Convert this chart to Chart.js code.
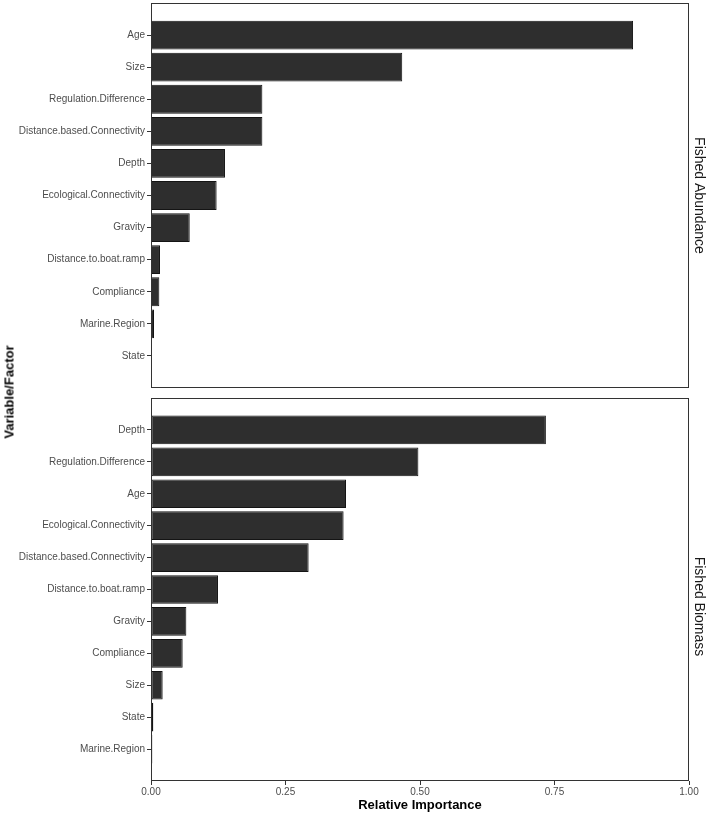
<!DOCTYPE html>
<html><head><meta charset="utf-8">
<script src="https://cdn.jsdelivr.net/npm/chart.js@4.4.1/dist/chart.umd.min.js"></script>
<style>
html,body{margin:0;padding:0;background:#fff;}
#wrap{position:relative;width:709px;height:815px;overflow:hidden;background:#fff;}
canvas{position:absolute;left:0;}
#c1{top:0;}
#c2{top:392px;}
#ytitle{position:absolute;left:9px;top:392px;transform:translate(-50%,-50%) rotate(-90deg);font:bold 13px "Liberation Sans",Arial,sans-serif;color:#000;white-space:nowrap;}
</style></head><body>
<div id="wrap">
<canvas id="c1" width="709" height="392"></canvas>
<canvas id="c2" width="709" height="423"></canvas>
<div id="ytitle">Variable/Factor</div>
</div>
<script>
// ---- data ----
const abundanceCategories = ['Age','Size','Regulation.Difference','Distance.based.Connectivity','Depth','Ecological.Connectivity','Gravity','Distance.to.boat.ramp','Compliance','Marine.Region','State'];
const abundanceValues = [0.896, 0.467, 0.207, 0.207, 0.1375, 0.122, 0.072, 0.0167, 0.0155, 0.0056, 0.0];
const biomassCategories = ['Depth','Regulation.Difference','Age','Ecological.Connectivity','Distance.based.Connectivity','Distance.to.boat.ramp','Gravity','Compliance','Size','State','Marine.Region'];
const biomassValues = [0.734, 0.497, 0.3625, 0.358, 0.293, 0.1245, 0.0657, 0.0589, 0.0217, 0.0043, 0.0025];
const xTickValues = [0, 0.25, 0.5, 0.75, 1];
const panelTitles = ['Fished Abundance', 'Fished Biomass'];
const xAxisTitle = 'Relative Importance';

Chart.defaults.font.family = '"Liberation Sans", Arial, Helvetica, sans-serif';

const panelBorder = {
  id: 'panelBorder',
  afterDraw(chart) {
    const {ctx, chartArea: a} = chart;
    ctx.save();
    ctx.strokeStyle = '#333';
    ctx.lineWidth = 1;
    ctx.strokeRect(Math.round(a.left) + 0.5, Math.round(a.top) + 0.5,
                   Math.round(a.right - a.left) - 1, Math.round(a.bottom - a.top) - 1);
    ctx.restore();
  }
};

function makePanel(canvasId, cats, vals, strip, showX) {
  const labels = [''].concat(cats, ['']);
  const data = [null].concat(vals, [null]);
  return new Chart(document.getElementById(canvasId), {
    type: 'bar',
    data: {
      labels: labels,
      datasets: [{
        data: data,
        backgroundColor: '#2e2e2e',
        borderColor: '#141414',
        borderWidth: 1,
        borderSkipped: false,
        categoryPercentage: 0.9,
        barPercentage: 1.0
      }]
    },
    options: {
      indexAxis: 'y',
      responsive: false,
      animation: false,
      events: [],
      layout: {padding: showX ? {top: 6, bottom: 0, left: 0, right: 0} : {top: 3, bottom: 4, left: 0, right: 0}},
      plugins: {
        legend: {display: false},
        tooltip: {enabled: false},
        title: {
          display: true, text: strip, position: 'right', color: '#1a1a1a',
          font: {size: 14, weight: 'normal'}, padding: {top: 2, bottom: 1.2}
        }
      },
      scales: {
        x: {
          type: 'linear', min: 0, max: 1, display: showX,
          afterBuildTicks: s => { s.ticks = xTickValues.map(v => ({value: v})); },
          afterFit: s => { if (showX) { s.height = 34; } else { s.height = 0; } s.paddingLeft = 0; s.paddingRight = 0; },
          grid: {drawOnChartArea: false, drawTicks: true, tickLength: 4, tickColor: '#333', offset: false},
          border: {display: false},
          ticks: {color: '#4d4d4d', font: {size: 10}, padding: 1, maxRotation: 0,
                  callback: v => Number(v).toFixed(2)},
          title: {display: true, text: xAxisTitle, color: '#000',
                  font: {size: 13, weight: 'bold'}, padding: {top: 0, bottom: 2.2}}
        },
        y: {
          type: 'category', offset: false,
          afterFit: s => { s.width = 151; s.paddingTop = 0; s.paddingBottom = 0; },
          grid: {drawOnChartArea: false, drawTicks: true, tickLength: 4, offset: false,
                 tickColor: c => (c.index === 0 || c.index === labels.length - 1) ? 'rgba(0,0,0,0)' : '#333'},
          border: {display: false},
          ticks: {autoSkip: false, color: '#4d4d4d', font: {size: 10}, padding: 2}
        }
      }
    },
    plugins: [panelBorder]
  });
}

makePanel('c1', abundanceCategories, abundanceValues, panelTitles[0], false);
makePanel('c2', biomassCategories, biomassValues, panelTitles[1], true);
</script>
</body></html>
